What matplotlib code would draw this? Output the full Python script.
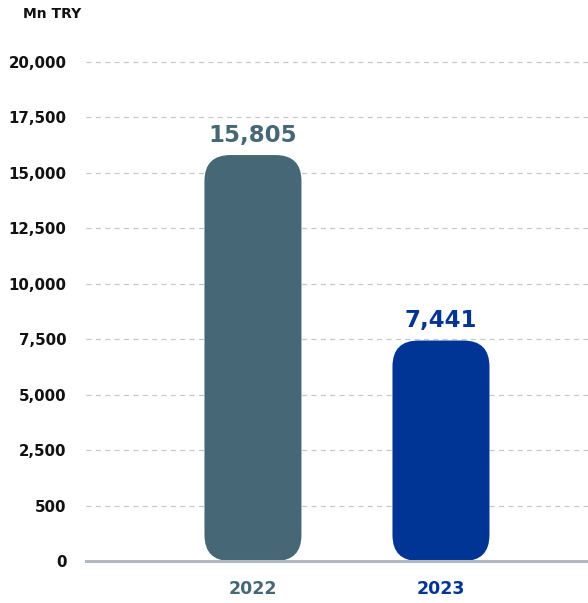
import numpy as np
import matplotlib.pyplot as plt
from matplotlib.patches import FancyBboxPatch

# Net figures, Mn TRY
years = ["2022", "2023"]
values = [15805, 7441]
value_labels = ["15,805", "7,441"]
bar_colors = ["#466776", "#003595"]

# The axis is spaced per label, not linearly
tick_values = [0, 500, 2500, 5000, 7500, 10000, 12500, 15000, 17500, 20000]
tick_labels = ["0", "500", "2,500", "5,000", "7,500", "10,000",
               "12,500", "15,000", "17,500", "20,000"]


def to_pos(v):
    return np.interp(v, tick_values, np.arange(len(tick_values)))


plt.rcParams['font.family'] = ['DejaVu Sans']

fig = plt.figure(figsize=(5.88, 6.03), dpi=100)
ax = fig.add_axes([86 / 588, 42 / 603, 502 / 588, 499 / 603])

x = np.arange(len(years))
xlim = (-0.888, 1.782)
ylim = (0, len(tick_values) - 1)
ax.set_xlim(*xlim)
ax.set_ylim(*ylim)

# data units per pixel, used to keep the corner rounding circular
ax_w_px, ax_h_px = 502, 499
x_per_px = (xlim[1] - xlim[0]) / ax_w_px
y_per_px = (ylim[1] - ylim[0]) / ax_h_px

bar_w = 97 * x_per_px
radius = 26 * x_per_px
for xi, v, c in zip(x, values, bar_colors):
    h = to_pos(v)
    bar = FancyBboxPatch((xi - bar_w / 2, 0), bar_w, h,
                         boxstyle=f"round,pad=0,rounding_size={radius}",
                         mutation_aspect=y_per_px / x_per_px,
                         facecolor=c, edgecolor="none", zorder=2)
    ax.add_patch(bar)

for xi, v, lab, c in zip(x, values, value_labels, bar_colors):
    ax.annotate(lab, (xi, to_pos(v)), xytext=(0, 6), textcoords="offset points",
                ha="center", va="bottom", fontsize=16.5, fontweight="bold", color=c)

# grid and baseline
for p in range(1, len(tick_values)):
    ax.axhline(p, color="#c3c8cf", lw=0.9, ls=(0, (4, 3.5)), zorder=1, clip_on=False)
ax.axhline(0, color="#b3b9bf", lw=2.2, zorder=3, clip_on=False)

ax.set_yticks(np.arange(len(tick_values)), tick_labels)
ax.tick_params(axis="y", length=0, pad=14, labelsize=10.8)
for t in ax.get_yticklabels():
    t.set_fontweight("bold")
    t.set_color("#111111")

ax.set_xticks(x, years)
ax.tick_params(axis="x", length=0, pad=14, labelsize=12.5)
for t, c in zip(ax.get_xticklabels(), bar_colors):
    t.set_fontweight("bold")
    t.set_color(c)

for s in ax.spines.values():
    s.set_visible(False)

fig.text(23 / 588, 1 - 14 / 603, "Mn TRY", ha="left", va="center",
         fontsize=10, fontweight="bold", color="#111111")

fig.savefig("out.png", dpi=100)
